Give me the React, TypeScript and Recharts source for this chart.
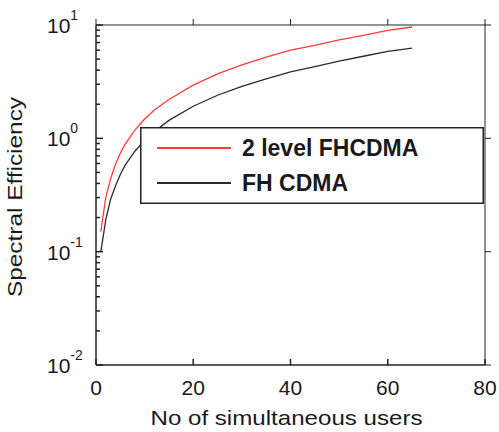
import React from "react";
import { LineChart, Line, XAxis, YAxis, Legend } from "recharts";

const users = [1, 2, 3, 4, 5, 6, 8, 10, 12, 15, 20, 25, 30, 35, 40, 45, 50, 55, 60, 65];
const twoLevelFHCDMA = [0.15, 0.3, 0.44, 0.59, 0.74, 0.89, 1.18, 1.48, 1.78, 2.2, 2.95, 3.7, 4.45, 5.2, 6.0, 6.6, 7.4, 8.1, 8.95, 9.6];
const fhCDMA = [0.1, 0.19, 0.29, 0.38, 0.48, 0.58, 0.77, 0.96, 1.15, 1.44, 1.92, 2.4, 2.88, 3.35, 3.85, 4.3, 4.8, 5.3, 5.85, 6.25];

const seriesNames = ["2 level FHCDMA", "FH CDMA"];
const seriesColors = ["#ff3b3b", "#2b2b2b"];
const xTicks = [0, 20, 40, 60, 80];
const yMajor = [0.01, 0.1, 1, 10];
const yExponents = ["-2", "-1", "0", "1"];
const minorMult = [2, 3, 4, 5, 6, 7, 8, 9];
const xLabel = "No of simultaneous users";
const yLabel = "Spectral Efficiency";

const yTicks: number[] = [];
yMajor.forEach((m, i) => {
  yTicks.push(m);
  if (i < yMajor.length - 1) minorMult.forEach((k) => yTicks.push(+(m * k).toPrecision(3)));
});

const data = users.map((u, i) => ({ x: u, a: twoLevelFHCDMA[i], b: fhCDMA[i] }));

const FONT = "'Liberation Sans', Arial, sans-serif";
const TXT = "#1a1a1a";
const AX = "#222";

const isMajor = (v: number) => yMajor.some((m) => Math.abs(m - v) < 1e-9);

const YTickLeft = (props: any) => {
  const { x, y, payload } = props;
  const px = Number(x);
  const py = Number(y);
  const v = payload.value;
  const major = isMajor(v);
  const idx = yMajor.findIndex((m) => Math.abs(m - v) < 1e-9);
  return (
    <g>
      <rect x={px} y={py - 0.75} width={major ? 7 : 4} height={1.5} fill={AX} />
      {major && (
        <text x={px - 49} y={py + 8} fontSize={21} fill={TXT} fontFamily={FONT}>
          10
          <tspan dy={-13} fontSize={14}>{yExponents[idx]}</tspan>
        </text>
      )}
    </g>
  );
};

const XTickBottom = (props: any) => {
  const { x, y, payload } = props;
  const px = Number(x);
  const py = Number(y);
  return (
    <g>
      <rect x={px - 0.75} y={py - 6} width={1.5} height={6} fill={AX} />
      <text x={px} y={py + 30} fontSize={21} textAnchor="middle" fill={TXT} fontFamily={FONT}>
        {payload.value}
      </text>
    </g>
  );
};

const XLabel = (props: any) => {
  const vb = props.viewBox;
  return (
    <text
      x={vb.x + vb.width / 2 - 4}
      y={vb.y + 60}
      fontSize={21}
      textAnchor="middle"
      fill={TXT}
      fontFamily={FONT}
      textLength={272}
      lengthAdjust="spacingAndGlyphs"
    >
      {xLabel}
    </text>
  );
};

const YLabel = (props: any) => {
  const vb = props.viewBox;
  const cx = 22;
  const cy = vb.y + vb.height / 2 + 2;
  return (
    <text
      x={cx}
      y={cy}
      fontSize={21}
      textAnchor="middle"
      fill={TXT}
      fontFamily={FONT}
      transform={`rotate(-90, ${cx}, ${cy})`}
      textLength={200}
      lengthAdjust="spacingAndGlyphs"
    >
      {yLabel}
    </text>
  );
};

const renderLegend = () => (
  <svg width={344} height={77} style={{ display: "block" }}>
    <rect x={0.75} y={0.75} width={342.5} height={75.5} fill="#fff" stroke={AX} strokeWidth={1.5} />
    {seriesNames.map((name, i) => (
      <g key={name}>
        <line x1={17} x2={91} y1={21 + i * 35} y2={21 + i * 35} stroke={seriesColors[i]} strokeWidth={1.8} />
        <text x={102} y={29 + i * 35} fontSize={23} fontWeight="bold" fill={TXT} fontFamily={FONT}>
          {name}
        </text>
      </g>
    ))}
  </svg>
);

const blank = () => "";

export default function App() {
  return (
    <div style={{ position: "absolute", left: 0, top: 0, width: 499, height: 432, background: "#fff" }}>
      <LineChart width={499} height={432} data={data} margin={{ top: 5, right: 1, bottom: 0, left: 0 }}>
        <XAxis
          xAxisId="b"
          dataKey="x"
          type="number"
          domain={[0, 80]}
          ticks={xTicks}
          interval={0}
          height={67}
          tickSize={0}
          tickMargin={0}
          tickLine={false}
          axisLine={{ stroke: AX, strokeWidth: 1.5 }}
          tick={<XTickBottom />}
          label={<XLabel />}
        />
        <XAxis
          xAxisId="t"
          orientation="top"
          dataKey="x"
          type="number"
          domain={[0, 80]}
          ticks={xTicks}
          height={20}
          stroke={AX}
          tickFormatter={blank}
        />
        <YAxis
          yAxisId="l"
          scale="log"
          domain={[0.01, 10]}
          allowDataOverflow
          ticks={yTicks}
          interval={0}
          width={96}
          tickSize={0}
          tickMargin={0}
          tickLine={false}
          axisLine={{ stroke: AX, strokeWidth: 1.5 }}
          tick={<YTickLeft />}
          label={<YLabel />}
        />
        <YAxis
          yAxisId="r"
          orientation="right"
          scale="log"
          domain={[0.01, 10]}
          allowDataOverflow
          ticks={yMajor}
          width={13}
          stroke={AX}
          tickFormatter={blank}
        />
        <Line xAxisId="t" yAxisId="r" dataKey="b" stroke="none" strokeWidth={0} dot={false} legendType="none" isAnimationActive={false} />
        <Line xAxisId="b" yAxisId="l" dataKey="a" name={seriesNames[0]} stroke={seriesColors[0]} strokeWidth={1.3} dot={false} isAnimationActive={false} />
        <Line xAxisId="b" yAxisId="l" dataKey="b" name={seriesNames[1]} stroke={seriesColors[1]} strokeWidth={1.3} dot={false} isAnimationActive={false} />
        <Legend
          content={renderLegend}
          layout="vertical"
          align="center"
          verticalAlign="middle"
          wrapperStyle={{ left: 140, top: 127, width: 344, height: 77 }}
        />
      </LineChart>
    </div>
  );
}
